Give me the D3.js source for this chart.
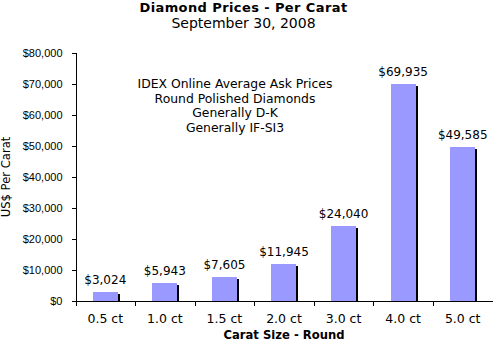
<!DOCTYPE html>
<html>
<head>
<meta charset="utf-8">
<script src="https://cdn.jsdelivr.net/npm/d3@7"></script>
<style>
  html, body { margin: 0; padding: 0; background: #fff; }
  svg { display: block; font-family: "DejaVu Sans", Verdana, sans-serif; }
  .axis path, .axis line { stroke: #000; stroke-width: 1; shape-rendering: crispEdges; }
  .axis text { font-size: 11px; fill: #000; }
</style>
</head>
<body>
<svg id="chart" width="493" height="342"></svg>
<script>
// Average ask price per carat by size
const categories = ["0.5 ct", "1.0 ct", "1.5 ct", "2.0 ct", "3.0 ct", "4.0 ct", "5.0 ct"];
const prices = [3024, 5943, 7605, 11945, 24040, 69935, 49585];
const yTicks = [0, 10000, 20000, 30000, 40000, 50000, 60000, 70000, 80000];
const noteLines = [
  "IDEX Online Average Ask Prices",
  "Round Polished Diamonds",
  "Generally D-K",
  "Generally IF-SI3"
];

const svg = d3.select("#chart");
const plotLeft = 75.5, plotRight = 492.5, plotTop = 53, plotBottom = 301;

const x = d3.scaleBand()
  .domain(categories)
  .range([plotLeft, plotRight])
  .paddingInner(0.58)
  .paddingOuter(0.29);

const y = d3.scaleLinear().domain([0, 80000]).range([plotBottom, plotTop]);
const money = d3.format("$,.0f");

// Titles
svg.append("text")
  .attr("x", 243.5).attr("y", 11.5)
  .attr("text-anchor", "middle")
  .style("font-size", "13px").style("font-weight", "bold")
  .style("letter-spacing", "0.4px")
  .text("Diamond Prices - Per Carat");
svg.append("text")
  .attr("x", 243.5).attr("y", 28)
  .attr("text-anchor", "middle")
  .style("font-size", "14px")
  .text("September 30, 2008");

// Y axis
const yAxis = svg.append("g")
  .attr("class", "axis")
  .attr("transform", `translate(${plotLeft},0)`)
  .call(d3.axisLeft(y).tickValues(yTicks).tickFormat(money).tickSize(4).tickSizeOuter(0).tickPadding(9));
yAxis.select(".domain").attr("d", `M0.5,${plotTop}V${plotBottom + 0.5}`);

// X axis line with ticks on category boundaries
const step = x.step();
const xAxis = svg.append("g").attr("class", "axis");
xAxis.append("line")
  .attr("x1", plotLeft).attr("x2", plotRight)
  .attr("y1", plotBottom + 0.5).attr("y2", plotBottom + 0.5);
xAxis.selectAll("line.tick")
  .data(d3.range(categories.length + 1))
  .join("line")
  .attr("class", "tick")
  .attr("x1", i => Math.round(plotLeft + i * step) + 0.5)
  .attr("x2", i => Math.round(plotLeft + i * step) + 0.5)
  .attr("y1", plotBottom).attr("y2", plotBottom + 5);
svg.append("g")
  .selectAll("text")
  .data(categories)
  .join("text")
  .attr("x", d => x(d) + x.bandwidth() / 2)
  .attr("y", 323)
  .attr("text-anchor", "middle")
  .style("font-size", "12.5px")
  .text(d => d);

// Bars with a dark offset shadow
const bars = svg.append("g").style("shape-rendering", "crispEdges");
bars.selectAll("rect.shadow")
  .data(prices)
  .join("rect")
  .attr("class", "shadow")
  .attr("x", (d, i) => Math.round(x(categories[i])) + 2)
  .attr("y", d => Math.round(y(d)) + 2)
  .attr("width", Math.round(x.bandwidth()))
  .attr("height", d => plotBottom - Math.round(y(d)) - 2)
  .attr("fill", "#000");
bars.selectAll("rect.bar")
  .data(prices)
  .join("rect")
  .attr("class", "bar")
  .attr("x", (d, i) => Math.round(x(categories[i])))
  .attr("y", d => Math.round(y(d)))
  .attr("width", Math.round(x.bandwidth()))
  .attr("height", d => plotBottom - Math.round(y(d)))
  .attr("fill", "#9999ff");

// Value labels
svg.append("g")
  .selectAll("text")
  .data(prices)
  .join("text")
  .attr("x", (d, i) => x(categories[i]) + x.bandwidth() / 2)
  .attr("y", d => y(d) - 8)
  .attr("text-anchor", "middle")
  .style("font-size", "12px")
  .text(d => money(d));

// Note block
svg.append("g")
  .selectAll("text")
  .data(noteLines)
  .join("text")
  .attr("x", 235)
  .attr("y", (d, i) => 88 + i * 14.6)
  .attr("text-anchor", "middle")
  .style("font-size", "12.4px")
  .text(d => d);

// Axis titles
svg.append("text")
  .attr("transform", "translate(10,177) rotate(-90)")
  .attr("text-anchor", "middle")
  .style("font-size", "11.6px")
  .text("US$ Per Carat");
svg.append("text")
  .attr("x", (plotLeft + plotRight) / 2).attr("y", 339)
  .attr("text-anchor", "middle")
  .style("font-size", "11.6px").style("font-weight", "bold")
  .text("Carat Size - Round");
</script>
</body>
</html>
